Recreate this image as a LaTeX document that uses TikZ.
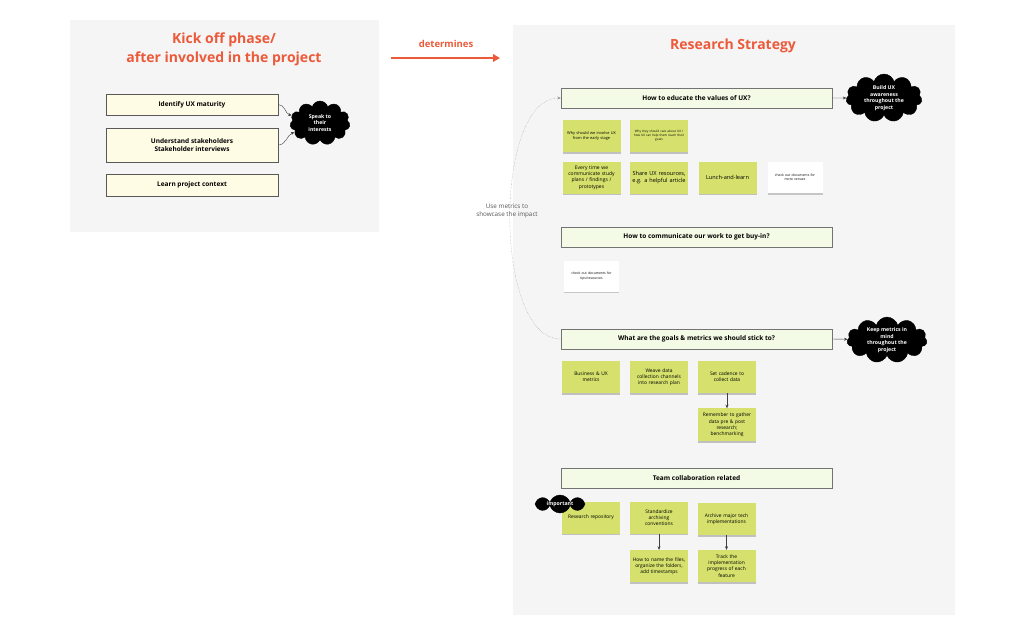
\documentclass[tikz,border=0pt]{standalone}
\usepackage{fontspec}
\setmainfont{Open Sans}
\usepackage{tikz}
\usetikzlibrary{shapes.symbols,arrows.meta,positioning,shadows}

\definecolor{titleorange}{HTML}{EC5A3A}
\definecolor{panelgray}{HTML}{F5F5F5}
\definecolor{creamfill}{HTML}{FFFCE6}
\definecolor{questionfill}{HTML}{F3FAE5}
\definecolor{stickygreen}{HTML}{D5E16C}
\definecolor{captiongray}{HTML}{555555}

\hyphenpenalty=10000
\exhyphenpenalty=10000

\begin{document}
\begin{tikzpicture}[
    x=1pt, y=-1pt,
    panel/.style={fill=panelgray, draw=none, inner sep=0pt},
    heading/.style={text=titleorange, font=\fontsize{14}{19}\selectfont\bfseries, align=center},
    stepbox/.style={draw=black!65, fill=creamfill, minimum width=172pt, inner sep=2pt, align=center, font=\fontsize{6.5}{8.5}\selectfont\bfseries},
    question/.style={draw=black!55, fill=questionfill, minimum width=271pt, minimum height=20pt, inner sep=1pt, font=\fontsize{6.5}{8}\selectfont\bfseries},
    sticky/.style={fill=stickygreen, minimum width=58pt, minimum height=32pt, text width=56pt, inner sep=0pt, align=center,
        font=\fontsize{4.9}{6.2}\selectfont,
        drop shadow={shadow xshift=0pt, shadow yshift=-1.5pt, fill=black!45, opacity=0.5}},
    note/.style={fill=white, minimum width=55pt, minimum height=31pt, text width=53pt, inner sep=0pt, align=center,
        font=\fontsize{3.4}{4.4}\selectfont,
        drop shadow={shadow xshift=0pt, shadow yshift=-1.5pt, fill=black!40, opacity=0.5}},
    thought/.style={cloud, cloud puffs=11, cloud ignores aspect, fill=black, draw=black, text=white, inner sep=0pt, align=center,
        font=\fontsize{5.2}{6.5}\selectfont\bfseries},
    link/.style={-{Stealth[length=3.5pt,width=3pt]}, black!75, line width=0.4pt}
]
\useasboundingbox (0,0) rectangle (1024,635);

% panels
\node[panel, minimum width=309pt, minimum height=212pt] (kickpanel) at (224.5,126) {};
\node[panel, minimum width=442pt, minimum height=590pt] (stratpanel) at (734,320) {};

% kick off side
\node[heading] (kicktitle) at (224,49) {Kick off phase/\\after involved in the project};
\node[stepbox, minimum height=21pt] (maturity) at (192,104.5) {Identify UX maturity};
\node[stepbox, minimum height=34pt] (stakeholders) at (192,145) {Understand stakeholders\\Stakeholder interviews};
\node[stepbox, minimum height=22pt] (context) at (192,185) {Learn project context};
\node[thought, minimum width=60pt, minimum height=44pt] (interests) at (320,123) {Speak to\\their\\interests};

\draw[link] (maturity.east) to[out=0, in=165] (interests);
\draw[link] (stakeholders.east) to[out=0, in=200] (interests);

% determines
\node[text=titleorange, font=\fontsize{9.5}{11}\selectfont\bfseries] (determ) at (446,44) {determines};
\coordinate (detstart) at (391,58);
\coordinate (detend) at (500,58);
\draw[titleorange, line width=2pt, -{Triangle[length=7pt,width=7.5pt]}] (detstart) -- (detend);

% research strategy side
\node[heading] (strattitle) at (733,46) {Research Strategy};

\node[question] (edu) at (696.5,98) {How to educate the values of UX?};
\node[thought, minimum width=76pt, minimum height=48pt] (awareness) at (884,98) {Build UX\\awareness\\throughout the\\project};
\draw[link] (edu.east) -- (awareness);

\node[sticky, font=\fontsize{3.9}{5}\selectfont] (whyearly) at (591.5,136) {Why should we involve UX\\from the early stage};
\node[sticky, font=\fontsize{3.1}{4}\selectfont] (whycare) at (659,136) {Why they should care about UX /\\how UX can help them reach their\\goals};
\node[sticky, font=\fontsize{5}{6.4}\selectfont] (everytime) at (591.5,177.5) {Every time we\\communicate study\\plans / findings /\\prototypes};
\node[sticky, font=\fontsize{5.6}{7}\selectfont] (share) at (659,177.5) {Share UX resources,\\e.g. a helpful article};
\node[sticky, font=\fontsize{5.6}{7}\selectfont] (lunch) at (727.5,177.5) {Lunch-and-learn};
\node[note] (venues) at (795,177.5) {check out documents for\\more venues};

\node[text=captiongray, align=center, font=\fontsize{6.3}{8}\selectfont] (usemetrics) at (507,211) {Use metrics to\\showcase the impact};

\node[question] (comm) at (696.5,237) {How to communicate our work to get buy-in?};
\node[note] (tips) at (591.5,276) {check out documents for\\tips/resources};

\node[question] (goals) at (696.5,339) {What are the goals \& metrics we should stick to?};
\node[thought, minimum width=80pt, minimum height=44pt] (keepmetrics) at (887,340) {Keep metrics in\\mind\\throughout the\\project};
\draw[link] (goals.east) -- (keepmetrics);
\draw[link, gray!80, densely dotted] (goals.west) to[out=180, in=180, looseness=0.72] (edu.west);

\node[sticky] (bizmetrics) at (591,377) {Business \& UX\\metrics};
\node[sticky] (weave) at (659,377) {Weave data\\collection channels\\into research plan};
\node[sticky] (cadence) at (727,377) {Set cadence to\\collect data};
\node[sticky, minimum height=33pt] (remember) [below=15pt of cadence] {Remember to gather\\data pre \& post\\research;\\benchmarking};
\draw[link] (cadence) -- (remember);

\node[question] (team) at (696.5,478) {Team collaboration related};
\node[sticky] (repo) at (591,517.5) {Research repository};
\node[sticky] (standard) at (659,517.5) {Standardize\\archiving\\conventions};
\node[sticky] (archive) at (726.5,519) {Archive major tech\\implementations};
\node[sticky] (naming) at (659,566) {How to name the files,\\organize the folders,\\add timestamps};
\node[sticky] (track) at (726.5,566) {Track the\\implementation\\progress of each\\feature};
\draw[link] (standard) -- (naming);
\draw[link] (archive) -- (track);
\node[thought, cloud puffs=8, minimum width=50pt, minimum height=18pt] (important) at (560,504) {important};
\end{tikzpicture}
\end{document}
